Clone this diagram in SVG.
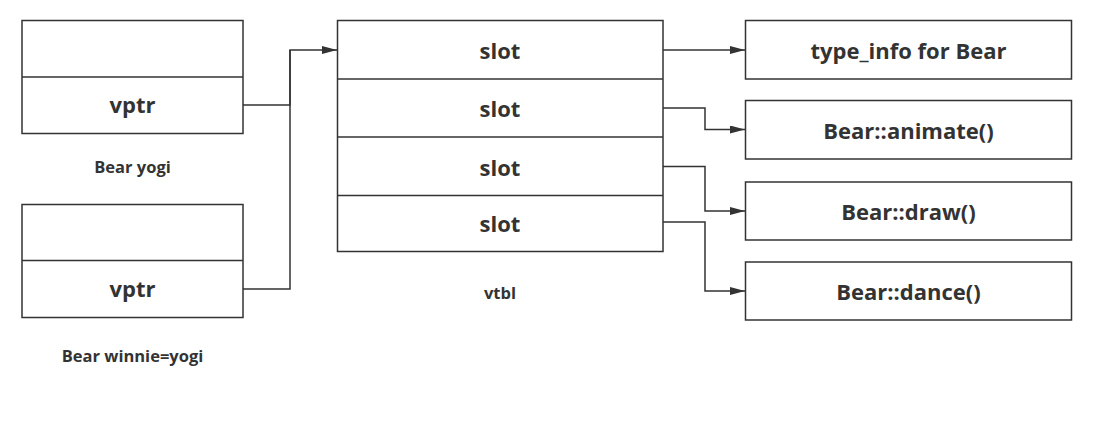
<svg xmlns="http://www.w3.org/2000/svg" width="1116" height="423" viewBox="0 0 1116 423">
<style>
.box{fill:#fff;stroke:#333;stroke-width:1.5}
.ln{fill:none;stroke:#333;stroke-width:1.5}
.t{font-family:"Open Sans","Noto Sans",sans-serif;font-weight:bold;fill:#333;text-anchor:middle;dominant-baseline:central}
.big{font-size:22px}
.sm{font-size:16.5px}
</style>
<defs>
<marker id="arr" markerWidth="15" markerHeight="8" refX="15" refY="4" orient="auto" markerUnits="userSpaceOnUse">
<path d="M0,0 L15,4 L0,8 Z" fill="#333"/>
</marker>
</defs>
<rect width="1116" height="423" fill="#fff"/>
<g id="connectors">
<path class="ln" d="M243,105 H290 V50 H337" marker-end="url(#arr)"/>
<path class="ln" d="M243,289 H290 V50"/>
<path class="ln" d="M663,50 H745" marker-end="url(#arr)"/>
<path class="ln" d="M663,108 H705 V129.5 H745" marker-end="url(#arr)"/>
<path class="ln" d="M663,166.5 H705 V211 H745" marker-end="url(#arr)"/>
<path class="ln" d="M663,222 H705 V291 H745" marker-end="url(#arr)"/>
</g>
<g id="yogi">
<rect class="box" x="22" y="20.5" width="221" height="113"/>
<line class="ln" x1="22" y1="77" x2="243" y2="77"/>
<text class="t big" x="132.5" y="104">vptr</text>
<text class="t sm" x="132.5" y="166.5">Bear yogi</text>
</g>
<g id="winnie">
<rect class="box" x="22" y="204.5" width="221" height="113"/>
<line class="ln" x1="22" y1="260.5" x2="243" y2="260.5"/>
<text class="t big" x="132.5" y="288">vptr</text>
<text class="t sm" x="132.5" y="355">Bear winnie=yogi</text>
</g>
<g id="vtbl">
<rect class="box" x="337.5" y="20.5" width="325.5" height="231"/>
<line class="ln" x1="337.5" y1="79" x2="663" y2="79"/>
<line class="ln" x1="337.5" y1="137" x2="663" y2="137"/>
<line class="ln" x1="337.5" y1="195.5" x2="663" y2="195.5"/>
<text class="t big" x="500" y="50">slot</text>
<text class="t big" x="500" y="108">slot</text>
<text class="t big" x="500" y="166.5">slot</text>
<text class="t big" x="500" y="223">slot</text>
<text class="t sm" x="500" y="292.5">vtbl</text>
</g>
<g id="typeinfo">
<rect class="box" x="745.5" y="20.5" width="326" height="58.5"/>
<text class="t big" x="908.5" y="50">type_info for Bear</text>
</g>
<g id="animate">
<rect class="box" x="745.5" y="100.5" width="326" height="58.5"/>
<text class="t big" x="908.5" y="129.5">Bear::animate()</text>
</g>
<g id="draw">
<rect class="box" x="745.5" y="182" width="326" height="58"/>
<text class="t big" x="908.5" y="210.5">Bear::draw()</text>
</g>
<g id="dance">
<rect class="box" x="745.5" y="262" width="326" height="58"/>
<text class="t big" x="908.5" y="290.5">Bear::dance()</text>
</g>
</svg>
